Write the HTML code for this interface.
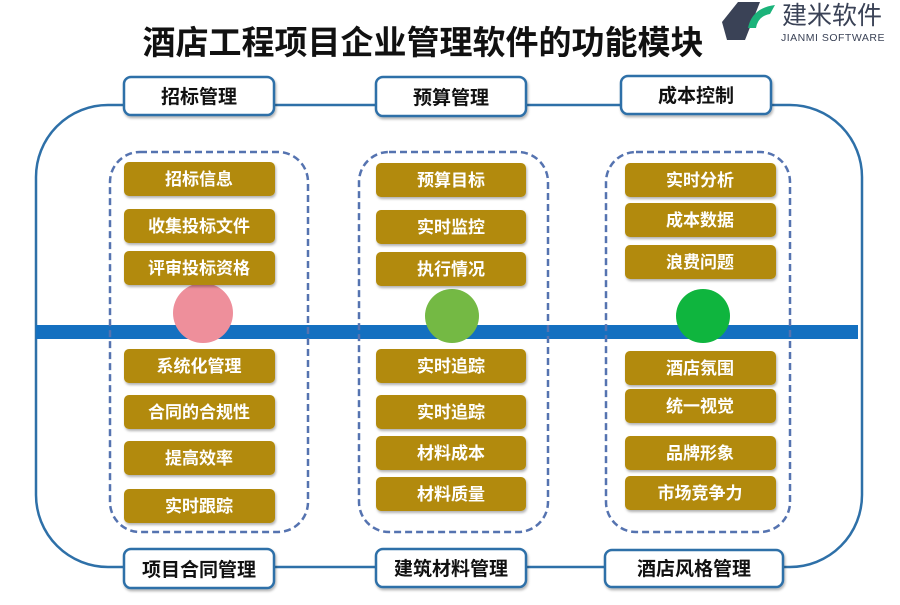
<!DOCTYPE html>
<html><head><meta charset="utf-8"><style>
body{margin:0;background:#fff;width:900px;height:600px;overflow:hidden}
svg text{font-family:"Liberation Sans","Noto Sans CJK SC",sans-serif;font-weight:bold}
</style></head><body>
<svg width="900" height="600" viewBox="0 0 900 600" xmlns="http://www.w3.org/2000/svg">
<defs>
<filter id="sh" x="-10%" y="-20%" width="130%" height="150%"><feDropShadow dx="1" dy="2" stdDeviation="1.2" flood-color="#000" flood-opacity="0.3"/></filter>
</defs>
<text x="423" y="54" font-size="33" text-anchor="middle" fill="#111">酒店工程项目企业管理软件的功能模块</text>
<!-- logo -->
<polygon points="738,2 760,2 745,40 727,40 722,22" fill="#3a4256"/>
<path d="M748,28 Q752,8 775,5 L770,14 Q758,16 756,28 Z" fill="#1bb37a"/>
<text x="782" y="24" font-size="25" fill="#3a4256" style="font-weight:normal">建米软件</text>
<text x="781" y="41" font-size="10.5" fill="#3a4256" style="font-weight:normal" letter-spacing="0.5">JIANMI SOFTWARE</text>
<!-- big outline -->
<rect x="36" y="105" width="826" height="462" rx="72" fill="none" stroke="#2e70a8" stroke-width="2.5"/>
<!-- bar -->
<rect x="36" y="325" width="822" height="14" fill="#1470c0"/>
<!-- dashed -->
<g fill="none" stroke="#5573b0" stroke-width="2.5" stroke-dasharray="7,4">
<rect x="110" y="152" width="198" height="380" rx="30"/>
<rect x="359" y="152" width="189" height="380" rx="30"/>
<rect x="606" y="152" width="184" height="380" rx="30"/>
</g>
<!-- circles -->
<circle cx="203" cy="313" r="30" fill="#ee8f9b"/>
<circle cx="452" cy="316" r="27" fill="#74b944"/>
<circle cx="703" cy="316" r="27" fill="#0fb53e"/>
<!-- header boxes -->
<g fill="#fff" stroke="#2e70a8" stroke-width="2.5" filter="url(#sh)">
<rect x="124" y="77" width="150" height="38" rx="7"/>
<rect x="376" y="77" width="150" height="39" rx="7"/>
<rect x="621" y="76" width="150" height="38" rx="7"/>
<rect x="124" y="549" width="150" height="39" rx="7"/>
<rect x="376" y="549" width="150" height="38" rx="7"/>
<rect x="605" y="550" width="178" height="37" rx="7"/>
</g>
<g font-size="19" fill="#111" text-anchor="middle">
<text x="199" y="103">招标管理</text>
<text x="451" y="104">预算管理</text>
<text x="696" y="102">成本控制</text>
<text x="199" y="576">项目合同管理</text>
<text x="451" y="575">建筑材料管理</text>
<text x="694" y="575">酒店风格管理</text>
</g>
<!-- gold boxes -->
<g fill="#b28a07" filter="url(#sh)">
<rect x="124" y="162" width="151" height="34" rx="5"/>
<rect x="124" y="209" width="151" height="34" rx="5"/>
<rect x="124" y="251" width="151" height="34" rx="5"/>
<rect x="124" y="349" width="151" height="34" rx="5"/>
<rect x="124" y="395" width="151" height="34" rx="5"/>
<rect x="124" y="441" width="151" height="34" rx="5"/>
<rect x="124" y="489" width="151" height="34" rx="5"/>
<rect x="376" y="163" width="150" height="34" rx="5"/>
<rect x="376" y="210" width="150" height="34" rx="5"/>
<rect x="376" y="252" width="150" height="34" rx="5"/>
<rect x="376" y="349" width="150" height="34" rx="5"/>
<rect x="376" y="395" width="150" height="34" rx="5"/>
<rect x="376" y="436" width="150" height="34" rx="5"/>
<rect x="376" y="477" width="150" height="34" rx="5"/>
<rect x="625" y="163" width="151" height="34" rx="5"/>
<rect x="625" y="203" width="151" height="34" rx="5"/>
<rect x="625" y="245" width="151" height="34" rx="5"/>
<rect x="625" y="351" width="151" height="34" rx="5"/>
<rect x="625" y="389" width="151" height="34" rx="5"/>
<rect x="625" y="436" width="151" height="34" rx="5"/>
<rect x="625" y="476" width="151" height="34" rx="5"/>
</g>
<g font-size="17" fill="#fff" text-anchor="middle">
<text x="199" y="185">招标信息</text>
<text x="199" y="232">收集投标文件</text>
<text x="199" y="274">评审投标资格</text>
<text x="199" y="372">系统化管理</text>
<text x="199" y="418">合同的合规性</text>
<text x="199" y="464">提高效率</text>
<text x="199" y="512">实时跟踪</text>
<text x="451" y="186">预算目标</text>
<text x="451" y="233">实时监控</text>
<text x="451" y="275">执行情况</text>
<text x="451" y="372">实时追踪</text>
<text x="451" y="418">实时追踪</text>
<text x="451" y="459">材料成本</text>
<text x="451" y="500">材料质量</text>
<text x="700" y="186">实时分析</text>
<text x="700" y="226">成本数据</text>
<text x="700" y="268">浪费问题</text>
<text x="700" y="374">酒店氛围</text>
<text x="700" y="412">统一视觉</text>
<text x="700" y="459">品牌形象</text>
<text x="700" y="499">市场竞争力</text>
</g>
</svg>
</body></html>
